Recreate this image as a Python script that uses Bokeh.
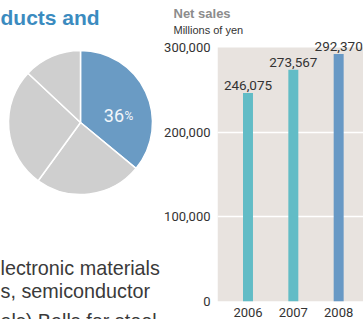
from bokeh.plotting import figure
from bokeh.layouts import row
from bokeh.models import Range1d, FixedTicker, NumeralTickFormatter, LabelSet, ColumnDataSource, Title
from bokeh.core.properties import value
from bokeh.embed import file_html
from bokeh.resources import INLINE
import numpy as np

# ---- data ----
title_text = "ducts and"
shares = [36, 24, 27, 13]
slice_colors = ["#6a9bc4", "#cfcfcf", "#cfcfcf", "#cfcfcf"]
body_lines = ["lectronic materials", "s, semiconductor", "als) Balls for steel"]

years = [2006, 2007, 2008]
year_labels = ["2006", "2007", "2008"]
net_sales = [246075, 273567, 292370]
bar_colors = ["#62bcc6", "#62bcc6", "#6899c5"]
y_ticks = [0, 100000, 200000, 300000]
chart_title = "Net sales"
chart_unit = "Millions of yen"

NUM = "Roboto"
SANS = "Liberation Sans"
BG = "#e8e3df"

# ---- left panel: pie + text ----
LW = 161
left = figure(width=LW, height=319, x_range=Range1d(0, LW), y_range=Range1d(0, 319),
              output_backend="svg", toolbar_location=None, min_border=0, frame_align=False)
left.axis.visible = False
left.grid.visible = False
left.outline_line_color = None

frac = np.array(shares) / sum(shares)
ends = np.pi / 2 - 2 * np.pi * np.cumsum(frac)
starts = np.concatenate([[np.pi / 2], ends[:-1]])
left.wedge(x=80, y=197, radius=72, start_angle=starts, end_angle=ends, direction="clock",
           fill_color=slice_colors, line_color="white", line_width=1.5)

left.text(x=[123.5], y=[204], text=[f"{shares[0]}"], text_align="right", text_baseline="alphabetic",
          text_font=value(NUM), text_font_size="18px", text_color="#f2f6fa")
left.text(x=[124], y=[204], text=["%"], text_align="left", text_baseline="alphabetic",
          text_font=value(NUM), text_font_size="12px", text_color="#f2f6fa")

left.text(x=[0], y=[302], text=[title_text], text_align="left", text_baseline="alphabetic",
          text_font=value(SANS), text_font_style="bold", text_font_size="21px", text_color="#3b8bbf")

left.text(x=[0, 0, 0], y=[52, 29, -1], text=body_lines, text_align="left", text_baseline="alphabetic",
          text_font=value(SANS), text_font_size="19.8px", text_color="#3a3a3a")

# ---- right panel: bar chart ----
top_extent = y_ticks[-1] * 267 / 256
right = figure(width=363 - LW, height=319, x_range=Range1d(2005.3275, 2008.5477), y_range=Range1d(0, top_extent),
               output_backend="svg", toolbar_location=None, frame_align=False,
               min_border_left=0, min_border_right=0, min_border_top=36, min_border_bottom=16,
               background_fill_color="white", border_fill_color="white")
right.outline_line_color = None
right.hstrip(y0=[y_ticks[0]], y1=[y_ticks[-1]], fill_color=BG, line_color=None)
right.hspan(y=y_ticks[1:-1], line_color="white", line_width=1.5)
right.vbar(x=years, top=net_sales, width=0.22, fill_color=bar_colors, line_color=None)

right.grid.visible = False

for ax in (right.xaxis[0], right.yaxis[0]):
    ax.axis_line_color = None
    ax.major_tick_line_color = None
    ax.minor_tick_line_color = None
    ax.major_label_text_font = NUM
    ax.major_label_text_font_size = "13px"
    ax.major_label_text_color = "#333333"

right.yaxis.ticker = FixedTicker(ticks=y_ticks)
right.yaxis.formatter = NumeralTickFormatter(format="0,0")
right.yaxis.major_label_standoff = 1
right.xaxis.ticker = FixedTicker(ticks=years)
right.xaxis.major_label_overrides = {y: l for y, l in zip(years, year_labels)}
right.xaxis.major_label_standoff = 0

src = ColumnDataSource(dict(x=years, y=net_sales, t=[f"{v:,}" for v in net_sales]))
right.add_layout(LabelSet(x="x", y="y", text="t", source=src, y_offset=3, text_align="center",
                          text_baseline="bottom", text_font=value(NUM), text_font_size="13.5px",
                          text_color="#333333"))

right.add_layout(Title(text=chart_unit, align="left", offset=-44, standoff=1,
                       text_font=SANS, text_font_style="normal", text_font_size="11px",
                       text_color="#333333"), "above")
right.add_layout(Title(text=chart_title, align="left", offset=-44, standoff=2,
                       text_font=SANS, text_font_style="bold", text_font_size="13px",
                       text_color="#8c8c8c"), "above")

layout = row(left, right)
open("out.html", "w").write(file_html(layout, INLINE))
